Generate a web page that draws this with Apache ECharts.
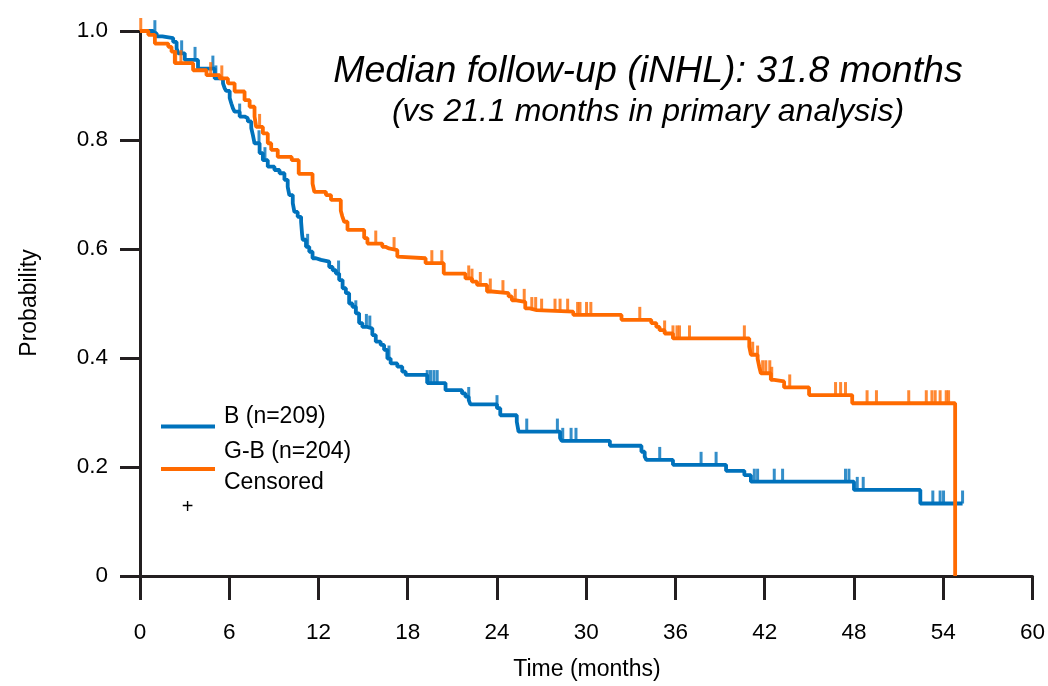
<!DOCTYPE html>
<html>
<head>
<meta charset="utf-8">
<script src="https://cdn.jsdelivr.net/npm/echarts@6/dist/echarts.min.js"></script>
<style>
  html, body { margin: 0; padding: 0; background: #fff; }
  #chart { width: 1048px; height: 686px; }
</style>
</head>
<body>
<div id="chart"></div>
<script>
// Kaplan–Meier estimates: event times (months) and survival after each step
const bTimes = [0, 0.89, 1.12, 1.5, 2.23, 2.46, 2.57, 3.01, 3.9, 5.02, 5.58, 5.69, 5.8, 6.03, 6.14, 6.25, 6.36, 6.7, 7.03, 7.25, 7.48, 7.59, 7.7, 8.04, 8.26, 8.59, 9.04, 9.38, 9.71, 9.93, 10.04, 10.27, 10.38, 10.6, 10.83, 10.9, 10.94, 11.16, 11.38, 11.6, 11.83, 12.17, 12.72, 12.95, 13.17, 13.39, 13.62, 13.84, 14.06, 14.28, 14.51, 14.73, 14.95, 15.29, 15.62, 15.85, 16.18, 16.41, 16.63, 16.85, 17.3, 17.63, 17.86, 19.31, 20.54, 21.65, 21.88, 22.1, 22.21, 24.0, 24.22, 25.33, 25.45, 28.24, 28.35, 31.59, 33.71, 33.93, 34.04, 35.83, 39.4, 40.63, 41.07, 48.0, 52.46, 55.3];
const bSurv = [1.0, 0.996, 0.99, 0.987, 0.98, 0.968, 0.959, 0.947, 0.931, 0.913, 0.904, 0.895, 0.89, 0.877, 0.867, 0.858, 0.852, 0.843, 0.84, 0.834, 0.822, 0.809, 0.794, 0.776, 0.763, 0.751, 0.745, 0.739, 0.727, 0.714, 0.699, 0.684, 0.668, 0.659, 0.65, 0.626, 0.617, 0.604, 0.595, 0.583, 0.58, 0.577, 0.567, 0.561, 0.555, 0.543, 0.528, 0.519, 0.5, 0.494, 0.482, 0.464, 0.457, 0.454, 0.442, 0.43, 0.424, 0.415, 0.399, 0.39, 0.384, 0.375, 0.369, 0.354, 0.341, 0.335, 0.329, 0.323, 0.315, 0.308, 0.295, 0.283, 0.265, 0.253, 0.248, 0.239, 0.228, 0.219, 0.213, 0.204, 0.193, 0.185, 0.173, 0.158, 0.133, 0.133];
const bCensor = [1.0, 2.8, 3.7, 4.9, 5.1, 6.7, 8.0, 8.4, 11.27, 13.35, 14.51, 15.22, 15.45, 16.74, 19.31, 19.53, 19.76, 19.98, 22.1, 24.0, 26.0, 28.06, 28.42, 28.98, 29.31, 34.94, 37.72, 38.73, 41.3, 41.52, 42.64, 43.2, 47.43, 47.66, 48.22, 48.62, 53.3, 53.79, 54.02, 55.3];

const gbTimes = [0, 0.56, 1.0, 1.9, 2.12, 2.34, 3.57, 4.47, 5.36, 5.91, 6.36, 7.03, 7.37, 7.7, 7.81, 8.26, 8.59, 8.82, 9.26, 10.2, 10.67, 11.6, 11.72, 12.5, 12.84, 13.5, 13.6, 13.73, 13.95, 15.07, 15.29, 16.29, 16.5, 16.74, 17.3, 17.4, 19.2, 20.42, 21.88, 22.32, 22.66, 23.33, 23.66, 24.78, 25.0, 25.2, 25.9, 26.2, 26.67, 29.13, 32.37, 34.37, 34.71, 34.93, 35.27, 35.83, 40.96, 41.07, 41.52, 41.63, 41.74, 42.41, 42.64, 43.3, 44.98, 47.88, 54.8];
const gbSurv = [1.0, 0.993, 0.977, 0.971, 0.962, 0.941, 0.928, 0.919, 0.913, 0.904, 0.889, 0.873, 0.861, 0.843, 0.824, 0.812, 0.794, 0.782, 0.769, 0.763, 0.738, 0.72, 0.705, 0.699, 0.69, 0.67, 0.66, 0.65, 0.635, 0.62, 0.61, 0.604, 0.601, 0.598, 0.586, 0.583, 0.574, 0.555, 0.546, 0.54, 0.534, 0.522, 0.519, 0.513, 0.506, 0.503, 0.491, 0.488, 0.485, 0.479, 0.47, 0.464, 0.457, 0.451, 0.445, 0.436, 0.421, 0.406, 0.399, 0.384, 0.372, 0.36, 0.357, 0.346, 0.332, 0.317, 0];
const gbCensor = [0.05, 2.4, 2.75, 4.75, 5.5, 8.04, 15.85, 17.08, 19.62, 20.29, 22.1, 22.32, 22.88, 23.55, 24.4, 25.23, 25.83, 26.34, 26.6, 27.0, 27.9, 28.24, 28.75, 29.42, 29.58, 30.02, 30.31, 33.6, 35.27, 35.83, 36.1, 36.27, 36.94, 40.63, 41.19, 41.52, 41.86, 42.07, 42.34, 42.47, 43.68, 46.76, 47.1, 47.43, 48.88, 49.51, 51.68, 52.86, 53.24, 53.46, 53.79, 54.2, 54.36];

const xTicks = [0, 6, 12, 18, 24, 30, 36, 42, 48, 54, 60];
const yTicks = [0, 0.2, 0.4, 0.6, 0.8, 1.0];

const seriesNames = ['B (n=209)', 'G-B (n=204)'];
const titleText = 'Median follow-up (iNHL): 31.8 months';
const subtitleText = '(vs 21.1 months in primary analysis)';

const BLUE = '#0072bc';
const ORANGE = '#ff6a00';
const AXIS = '#231f20';
const FONT = '"Liberation Sans", Arial, sans-serif';

// Survival estimate in effect at time t (right-continuous step function)
function survAt(times, surv, t) {
  let v = surv[0];
  for (let i = 0; i < times.length; i++) {
    if (times[i] <= t) v = surv[i]; else break;
  }
  return v;
}

const pairs = (xs, ys) => xs.map((x, i) => [x, ys[i]]);
const censorPts = (cs, xs, ys) => cs.map(t => [t, survAt(xs, ys, t)]);

const chart = echarts.init(document.getElementById('chart'), null, { renderer: 'canvas' });

const censorSymbol = {
  type: 'scatter',
  symbol: 'rect',
  symbolSize: [3, 13],
  symbolOffset: [0, -6.5],
  silent: true
};

chart.setOption({
  animation: false,
  backgroundColor: '#ffffff',
  textStyle: { fontFamily: FONT },
  grid: { left: 140, right: 13, top: 31, bottom: 110, containLabel: false },
  xAxis: {
    type: 'value',
    min: xTicks[0],
    max: xTicks[xTicks.length - 1],
    interval: 6,
    axisLine: { show: true, lineStyle: { color: AXIS, width: 3 } },
    axisTick: { show: true, length: 24, inside: false, lineStyle: { color: AXIS, width: 3 } },
    axisLabel: { color: '#000', fontSize: 22.5, fontFamily: FONT, margin: 45 },
    splitLine: { show: false }
  },
  yAxis: {
    type: 'value',
    min: yTicks[0],
    max: yTicks[yTicks.length - 1],
    interval: 0.2,
    axisLine: { show: true, lineStyle: { color: AXIS, width: 3 } },
    axisTick: { show: true, length: 20, lineStyle: { color: AXIS, width: 3 } },
    axisLabel: {
      color: '#000', fontSize: 22.5, fontFamily: FONT, margin: 32,
      formatter: v => (v === 0 ? '0' : v.toFixed(1))
    },
    splitLine: { show: false }
  },
  series: [
    {
      name: seriesNames[0], type: 'line', step: 'end', showSymbol: false, z: 3,
      data: pairs(bTimes, bSurv),
      lineStyle: { color: BLUE, width: 3.8 }, itemStyle: { color: BLUE }
    },
    Object.assign({}, censorSymbol, {
      name: seriesNames[0] + ' censored', z: 3,
      data: censorPts(bCensor, bTimes, bSurv),
      itemStyle: { color: BLUE }
    }),
    {
      name: seriesNames[1], type: 'line', step: 'end', showSymbol: false, z: 4,
      data: pairs(gbTimes, gbSurv),
      lineStyle: { color: ORANGE, width: 3.8 }, itemStyle: { color: ORANGE }
    },
    Object.assign({}, censorSymbol, {
      name: seriesNames[1] + ' censored', z: 4,
      data: censorPts(gbCensor, gbTimes, gbSurv),
      itemStyle: { color: ORANGE }
    })
  ],
  graphic: [
    { type: 'text', x: 648, y: 72, style: { text: titleText, font: 'italic 37.5px ' + FONT, fill: '#000', align: 'center', verticalAlign: 'middle' } },
    { type: 'text', x: 648, y: 112, style: { text: subtitleText, font: 'italic 32px ' + FONT, fill: '#000', align: 'center', verticalAlign: 'middle' } },
    { type: 'text', x: 587, y: 670, style: { text: 'Time (months)', font: '23px ' + FONT, fill: '#000', align: 'center', verticalAlign: 'middle' } },
    { type: 'text', x: 30, y: 303, rotation: Math.PI / 2, style: { text: 'Probability', font: '23px ' + FONT, fill: '#000', align: 'center', verticalAlign: 'middle' } },
    // legend
    { type: 'line', shape: { x1: 161, y1: 426.5, x2: 215, y2: 426.5 }, style: { stroke: BLUE, lineWidth: 4 } },
    { type: 'line', shape: { x1: 161, y1: 469, x2: 215, y2: 469 }, style: { stroke: ORANGE, lineWidth: 4 } },
    { type: 'text', x: 224, y: 417, style: { text: seriesNames[0], font: '23px ' + FONT, fill: '#000', align: 'left', verticalAlign: 'middle' } },
    { type: 'text', x: 224, y: 452, style: { text: seriesNames[1], font: '23px ' + FONT, fill: '#000', align: 'left', verticalAlign: 'middle' } },
    { type: 'text', x: 224, y: 483, style: { text: 'Censored', font: '23px ' + FONT, fill: '#000', align: 'left', verticalAlign: 'middle' } },
    { type: 'text', x: 187.5, y: 507, style: { text: '+', font: '20px ' + FONT, fill: '#000', align: 'center', verticalAlign: 'middle' } }
  ]
});
</script>
</body>
</html>
